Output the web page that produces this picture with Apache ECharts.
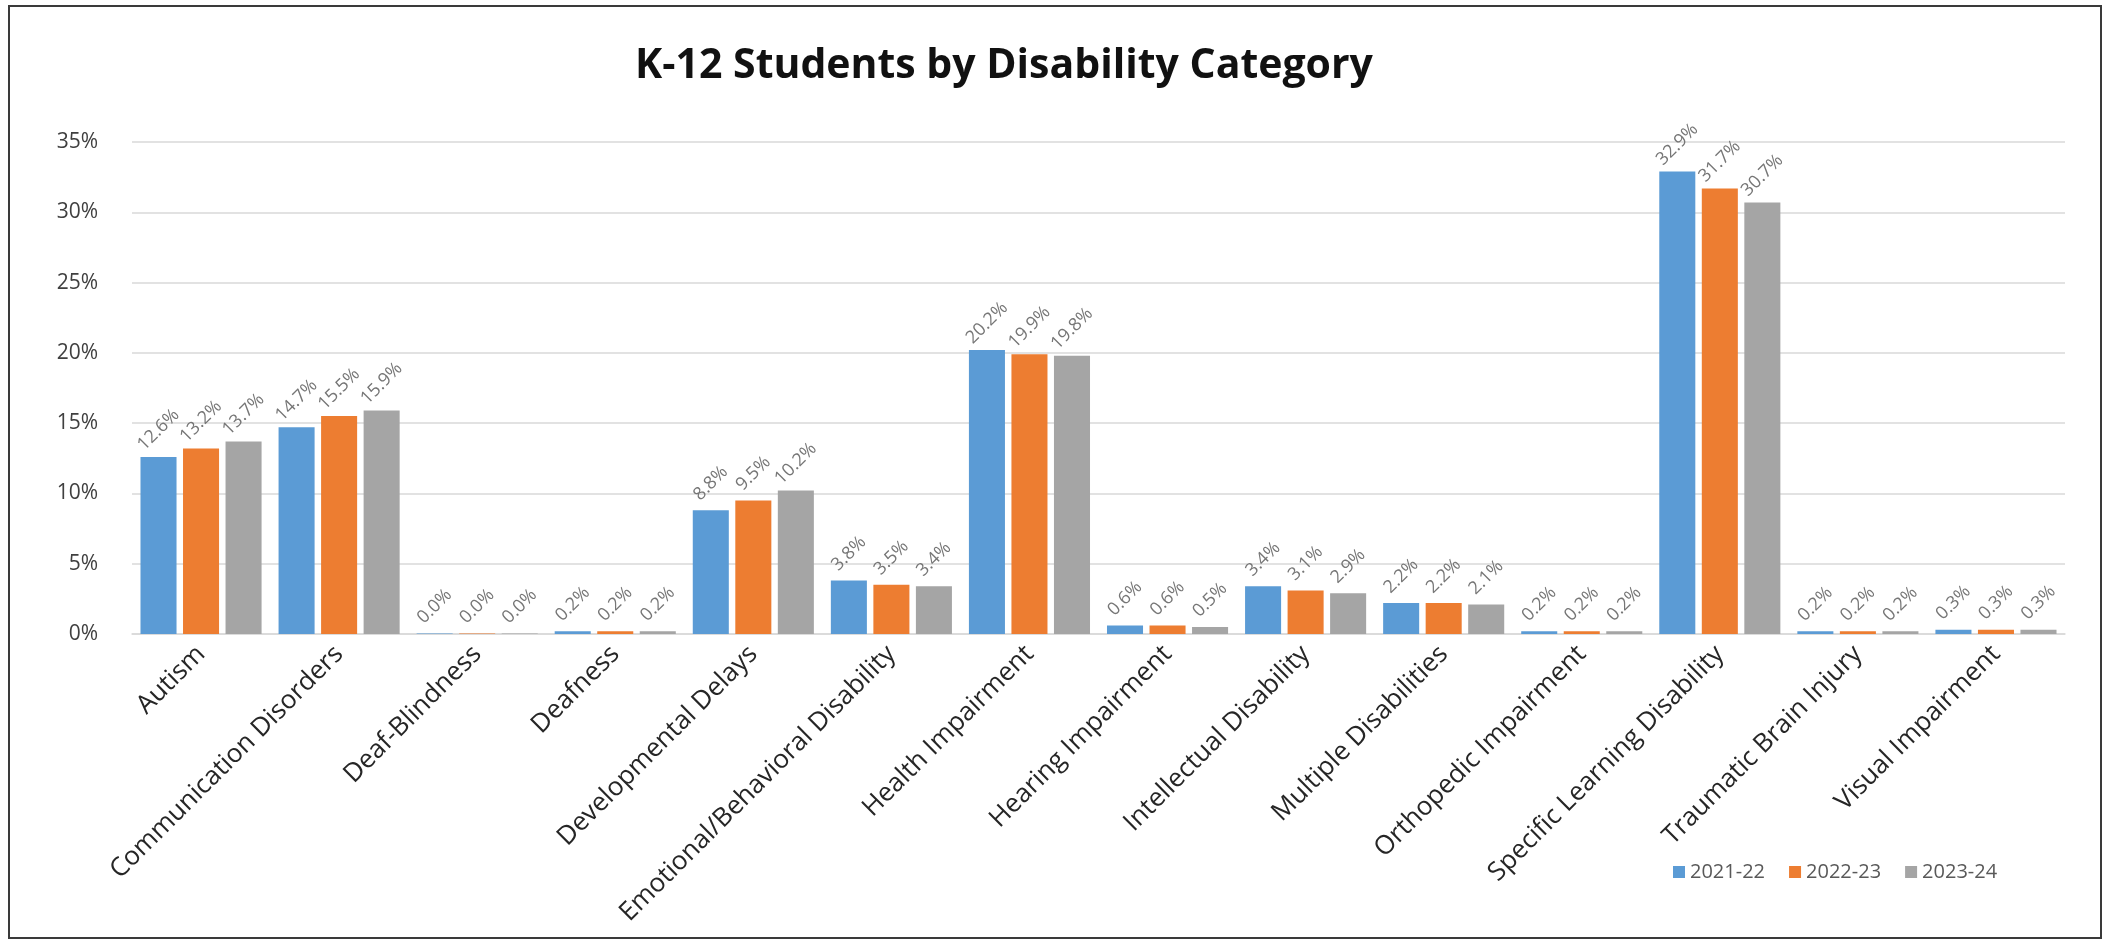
<!DOCTYPE html>
<html>
<head>
<meta charset="utf-8">
<script src="https://cdn.jsdelivr.net/npm/echarts@6/dist/echarts.min.js"></script>
<style>
  html, body { margin: 0; padding: 0; background: #ffffff; }
  #chart { width: 2107px; height: 942px; }
</style>
</head>
<body>
<div id="chart"></div>
<script>
// Disability categories along the x axis
const categories = [
  'Autism', 'Communication Disorders', 'Deaf-Blindness', 'Deafness',
  'Developmental Delays', 'Emotional/Behavioral Disability', 'Health Impairment',
  'Hearing Impairment', 'Intellectual Disability', 'Multiple Disabilities',
  'Orthopedic Impairment', 'Specific Learning Disability', 'Traumatic Brain Injury',
  'Visual Impairment'
];

// School years shown in the legend
const years = ['2021-22', '2022-23', '2023-24'];

// Share of K-12 students (percent) per category, one array per school year
const share2021 = [12.6, 14.7, 0.04, 0.2, 8.8, 3.8, 20.2, 0.6, 3.4, 2.2, 0.2, 32.9, 0.2, 0.3];
const share2022 = [13.2, 15.5, 0.04, 0.2, 9.5, 3.5, 19.9, 0.6, 3.1, 2.2, 0.2, 31.7, 0.2, 0.3];
const share2023 = [13.7, 15.9, 0.04, 0.2, 10.2, 3.4, 19.8, 0.5, 2.9, 2.1, 0.2, 30.7, 0.2, 0.3];

// Y axis range and step (percent)
const yMin = 0;
const yMax = 35;
const yStep = 5;

const chartTitle = 'K-12 Students by Disability Category';

const colors = ['#5B9BD5', '#ED7D31', '#A5A5A5'];
const FONT = 'Open Sans';

const chart = echarts.init(document.getElementById('chart'), null, { renderer: 'canvas' });

function barSeries(name, data, color) {
  return {
    name: name,
    type: 'bar',
    data: data,
    barGap: '18%',
    barCategoryGap: '12.3%',
    itemStyle: { color: color },
    label: {
      show: true,
      position: 'top',
      distance: 27,
      rotate: 45,
      align: 'center',
      verticalAlign: 'middle',
      color: '#767676',
      fontFamily: FONT,
      fontSize: 18,
      formatter: p => p.value.toFixed(1) + '%'
    }
  };
}

chart.setOption({
  animation: false,
  color: colors,
  textStyle: { fontFamily: FONT },
  grid: { left: 132, right: 42, top: 142, bottom: 308, containLabel: false },
  graphic: [
    {
      type: 'rect',
      shape: { x: 9, y: 6, width: 2092, height: 932 },
      style: { fill: 'none', stroke: '#3a3a3a', lineWidth: 2 },
      silent: true
    },
    {
      type: 'text',
      x: 1004,
      y: 66,
      style: {
        text: chartTitle,
        fill: '#111111',
        font: 'bold 41px "Open Sans"',
        textAlign: 'center',
        textVerticalAlign: 'middle'
      },
      silent: true
    }
  ],
  legend: {
    data: years,
    left: 1668,
    top: 857,
    itemWidth: 12,
    itemHeight: 12,
    itemGap: 24,
    icon: 'rect',
    textStyle: { color: '#595959', fontSize: 20, fontFamily: FONT }
  },
  xAxis: {
    type: 'category',
    data: categories,
    axisLine: { show: true, lineStyle: { color: '#d9d9d9', width: 1.5 } },
    axisTick: { show: false },
    axisLabel: {
      interval: 0,
      rotate: 45,
      margin: 16,
      color: '#262626',
      fontFamily: FONT,
      fontSize: 26
    }
  },
  yAxis: {
    type: 'value',
    min: yMin,
    max: yMax,
    interval: yStep,
    axisLine: { show: false },
    axisTick: { show: false },
    splitLine: { lineStyle: { color: '#d9d9d9', width: 1.5 } },
    axisLabel: {
      margin: 34,
      color: '#404040',
      fontFamily: FONT,
      fontSize: 21,
      formatter: '{value}%'
    }
  },
  series: [
    barSeries(years[0], share2021, colors[0]),
    barSeries(years[1], share2022, colors[1]),
    barSeries(years[2], share2023, colors[2])
  ]
});
</script>
</body>
</html>
